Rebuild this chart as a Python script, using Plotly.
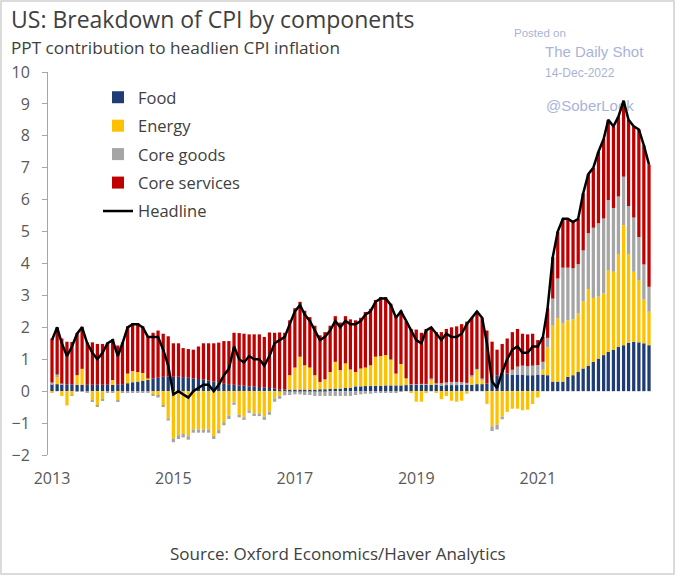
import pandas as pd
import plotly.graph_objects as go

months = pd.date_range("2013-01-01", periods=119, freq="MS")

food = [
    0.22, 0.22, 0.21, 0.21, 0.21, 0.20, 0.20, 0.20, 0.20, 0.20, 0.20, 0.20,
    0.20, 0.20, 0.22, 0.25, 0.28, 0.30, 0.32, 0.35, 0.40, 0.42, 0.45, 0.46,
    0.45, 0.45, 0.44, 0.42, 0.40, 0.38, 0.36, 0.33, 0.30, 0.28, 0.25, 0.22,
    0.20, 0.18, 0.17, 0.15, 0.14, 0.13, 0.12, 0.10, 0.08, 0.06, 0.05, 0.05,
    0.05, 0.05, 0.05, 0.05, 0.05, 0.06, 0.06, 0.07, 0.08, 0.08, 0.10, 0.10,
    0.15, 0.15, 0.16, 0.16, 0.17, 0.17, 0.18, 0.18, 0.18, 0.18, 0.19, 0.20,
    0.20, 0.20, 0.20, 0.20, 0.20, 0.19, 0.19, 0.19, 0.19, 0.20, 0.20, 0.20,
    0.22, 0.22, 0.24, 0.40, 0.50, 0.55, 0.55, 0.52, 0.52, 0.52, 0.50, 0.50,
    0.52, 0.52, 0.50, 0.30, 0.30, 0.30, 0.45, 0.50, 0.60, 0.71, 0.80, 0.92,
    1.02, 1.13, 1.23, 1.30, 1.39, 1.44, 1.52, 1.55, 1.53, 1.50, 1.44,
]

energy = [
    -0.05, 0.25, -0.15, -0.45, -0.12, 0.30, 0.50, 0.00, -0.30, -0.45, -0.25, 0.00,
    0.15, -0.30, 0.00, 0.30, 0.35, 0.30, 0.25, 0.05, -0.10, -0.15, -0.45, -0.85,
    -1.48, -1.38, -1.34, -1.41, -1.20, -1.20, -1.20, -1.20, -1.40, -1.22, -0.97, -0.77,
    -0.35, -0.74, -0.82, -0.60, -0.70, -0.70, -0.80, -0.64, -0.23, -0.14, -0.01, 0.45,
    0.69, 1.03, 0.76, 0.69, 0.45, 0.23, 0.31, 0.53, 0.84, 0.58, 0.77, 0.58,
    0.45, 0.56, 0.58, 0.65, 0.91, 0.93, 0.95, 0.81, 0.37, 0.67, 0.21, -0.05,
    -0.33, -0.33, -0.05, 0.15, -0.05, -0.25, -0.15, -0.30, -0.33, -0.30, -0.08, 0.25,
    0.45, 0.15, -0.40, -1.10, -1.05, -0.80, -0.65, -0.55, -0.55, -0.60, -0.58, -0.40,
    -0.20, 0.15, 0.87, 1.75, 1.98, 1.82, 1.77, 1.75, 1.83, 2.10, 2.40, 2.00,
    1.94, 1.93, 2.56, 2.44, 2.91, 3.76, 2.78, 2.19, 1.95, 1.37, 1.05,
]

core_goods = [
    0.05, 0.05, 0.03, 0.00, -0.02, -0.02, -0.02, -0.03, -0.03, -0.03, -0.03, -0.03,
    -0.03, -0.03, -0.03, -0.03, -0.03, -0.03, -0.03, -0.03, -0.03, -0.05, -0.05, -0.07,
    -0.12, -0.12, -0.11, -0.11, -0.10, -0.10, -0.10, -0.10, -0.10, -0.10, -0.10, -0.10,
    -0.08, -0.08, -0.08, -0.08, -0.08, -0.08, -0.10, -0.10, -0.10, -0.10, -0.12, -0.12,
    -0.10, -0.10, -0.12, -0.12, -0.15, -0.15, -0.15, -0.15, -0.15, -0.15, -0.15, -0.15,
    -0.12, -0.10, -0.08, -0.08, -0.06, -0.05, -0.05, -0.04, -0.03, -0.02, 0.00, 0.02,
    0.02, 0.03, 0.03, 0.05, 0.05, 0.06, 0.08, 0.10, 0.10, 0.08, 0.06, 0.05,
    0.03, 0.03, 0.00, -0.15, -0.15, -0.08, 0.00, 0.15, 0.25, 0.28, 0.28, 0.30,
    0.30, 0.25, 0.30, 0.85, 1.25, 1.75, 1.65, 1.60, 1.55, 1.60, 1.75, 2.20,
    2.30, 2.35, 2.20, 2.00, 1.80, 1.52, 1.50, 1.70, 1.35, 1.10, 0.78,
]

core_services = [
    1.38, 1.48, 1.41, 1.34, 1.33, 1.32, 1.32, 1.33, 1.33, 1.28, 1.28, 1.33,
    1.28, 1.23, 1.31, 1.48, 1.50, 1.53, 1.46, 1.33, 1.43, 1.48, 1.35, 1.26,
    1.05, 1.05, 0.91, 0.90, 0.90, 1.02, 1.14, 1.17, 1.20, 1.24, 1.32, 1.35,
    1.63, 1.64, 1.63, 1.63, 1.64, 1.65, 1.58, 1.74, 1.75, 1.78, 1.78, 1.72,
    1.86, 1.72, 1.71, 1.58, 1.55, 1.46, 1.48, 1.45, 1.43, 1.49, 1.48, 1.57,
    1.62, 1.59, 1.74, 1.77, 1.78, 1.85, 1.82, 1.75, 1.78, 1.67, 1.80, 1.73,
    1.71, 1.60, 1.72, 1.60, 1.60, 1.60, 1.68, 1.71, 1.74, 1.82, 1.92, 1.80,
    1.80, 1.90, 1.66, 1.15, 0.80, 0.93, 1.10, 1.18, 1.18, 1.00, 1.00, 1.00,
    0.78, 0.78, 0.93, 1.30, 1.47, 1.53, 1.53, 1.45, 1.42, 1.79, 1.85, 1.88,
    2.24, 2.49, 2.51, 2.56, 2.50, 2.38, 2.70, 2.86, 3.37, 3.73, 3.83,
]

headline = [
    1.6, 2.0, 1.5, 1.1, 1.4, 1.8, 2.0, 1.5, 1.2, 1.0, 1.2, 1.5,
    1.6, 1.1, 1.5, 2.0, 2.1, 2.1, 2.0, 1.7, 1.7, 1.7, 1.3, 0.8,
    -0.1, 0.0, -0.1, -0.2, 0.0, 0.1, 0.2, 0.2, 0.0, 0.2, 0.5, 0.7,
    1.4, 1.0, 0.9, 1.1, 1.0, 1.0, 0.8, 1.1, 1.5, 1.6, 1.7, 2.1,
    2.5, 2.7, 2.4, 2.2, 1.9, 1.6, 1.7, 1.9, 2.2, 2.0, 2.2, 2.1,
    2.1, 2.2, 2.4, 2.5, 2.8, 2.9, 2.9, 2.7, 2.3, 2.5, 2.2, 1.9,
    1.6, 1.5, 1.9, 2.0, 1.8, 1.6, 1.8, 1.7, 1.7, 1.8, 2.1, 2.3,
    2.5, 2.3, 1.5, 0.3, 0.1, 0.6, 1.0, 1.3, 1.4, 1.2, 1.2, 1.4,
    1.4, 1.7, 2.6, 4.2, 5.0, 5.4, 5.4, 5.3, 5.4, 6.2, 6.8, 7.0,
    7.5, 7.9, 8.5, 8.3, 8.6, 9.1, 8.5, 8.3, 8.2, 7.7, 7.1,
]

tick_years = ["2013", "2015", "2017", "2019", "2021"]
tick_dates = [f"{y}-01-01" for y in tick_years]

FONT = "Open Sans"
WMFONT = "Liberation Sans"
TXT = "#404040"
AX = "#595959"
WM = "#A9B3D8"

# pixel -> paper helpers (plot area: x 48..655, y 72..455)
def px(xp):
    return (xp - 48) / 607.0

def py(yp):
    return (455 - yp) / 383.0

fig = go.Figure()
series = [
    ("Food", food, "#1F3C74"),
    ("Energy", energy, "#FFC000"),
    ("Core goods", core_goods, "#A5A5A5"),
    ("Core services", core_services, "#C00000"),
]
for name, vals, col in series:
    fig.add_trace(go.Bar(x=months, y=vals, name=name, marker=dict(color=col, line=dict(width=0)),
                         legendgroup=name))
fig.add_trace(go.Scatter(x=months, y=headline, name="Headline", mode="lines",
                         line=dict(color="black", width=2.5), legendgroup="Headline"))

fig.update_layout(
    width=676, height=576,
    margin=dict(l=48, r=21, t=72, b=121),
    paper_bgcolor="white", plot_bgcolor="rgba(0,0,0,0)",
    barmode="relative", bargap=0.3,
    font=dict(family=FONT, color=TXT),
    showlegend=True,
    legend=dict(x=px(98), y=py(80), xanchor="left", yanchor="top",
                traceorder="grouped", tracegroupgap=4,
                font=dict(size=16.5, color=TXT), bgcolor="rgba(0,0,0,0)"),
    xaxis=dict(type="date", range=["2012-12-08", "2022-12-07"],
               tickvals=tick_dates, ticktext=tick_years, showgrid=False,
               showline=False, zeroline=False, ticks="",
               tickfont=dict(size=16, color=AX), ticklabelstandoff=12),
    yaxis=dict(range=[-2, 10], dtick=1, showgrid=False, zeroline=False,
               showline=True, linecolor="#A6A6A6", linewidth=1,
               ticks="outside", ticklen=5, tickcolor="#A6A6A6",
               tickfont=dict(size=16, color=AX), ticklabelstandoff=9),
)

annos = [
    dict(text="US: Breakdown of CPI by components", x=px(9), y=py(19), size=23, color=TXT, xanchor="left", fam=FONT),
    dict(text="PPT contribution to headlien CPI inflation", x=px(9), y=py(47), size=17.2, color=TXT, xanchor="left", fam=FONT),
    dict(text="Source: Oxford Economics/Haver Analytics", x=px(338), y=py(553), size=17, color=TXT, xanchor="center", fam=FONT),
    dict(text="Posted on", x=px(512), y=py(33), size=11.5, color=WM, xanchor="left", fam=WMFONT),
    dict(text="The Daily Shot", x=px(543), y=py(52), size=15, color=WM, xanchor="left", fam=WMFONT),
    dict(text="14-Dec-2022", x=px(543), y=py(73), size=12, color=WM, xanchor="left", fam=WMFONT),
]
for a in annos:
    fig.add_annotation(text=a["text"], x=a["x"], y=a["y"], xref="paper", yref="paper",
                       xanchor=a["xanchor"], yanchor="middle", showarrow=False,
                       font=dict(size=a["size"], color=a["color"], family=a["fam"]))

# watermark drawn beneath the bars
fig.add_shape(type="rect", xref="paper", yref="paper", x0=px(543), x1=px(660), y0=py(114), y1=py(94),
              layer="below", line=dict(width=0), fillcolor="rgba(0,0,0,0)",
              label=dict(text="@SoberLook", textposition="middle left", padding=0,
                         font=dict(size=15, color=WM, family=WMFONT)))

# outer frame
fig.add_shape(type="rect", xref="paper", yref="paper", x0=px(1), x1=px(674), y0=py(574), y1=py(1),
              line=dict(color="#D0D0D0", width=1.5), fillcolor="rgba(0,0,0,0)")

fig.write_html("out.html", config={"displayModeBar": False},
               post_script="document.body.style.margin='0px';")
